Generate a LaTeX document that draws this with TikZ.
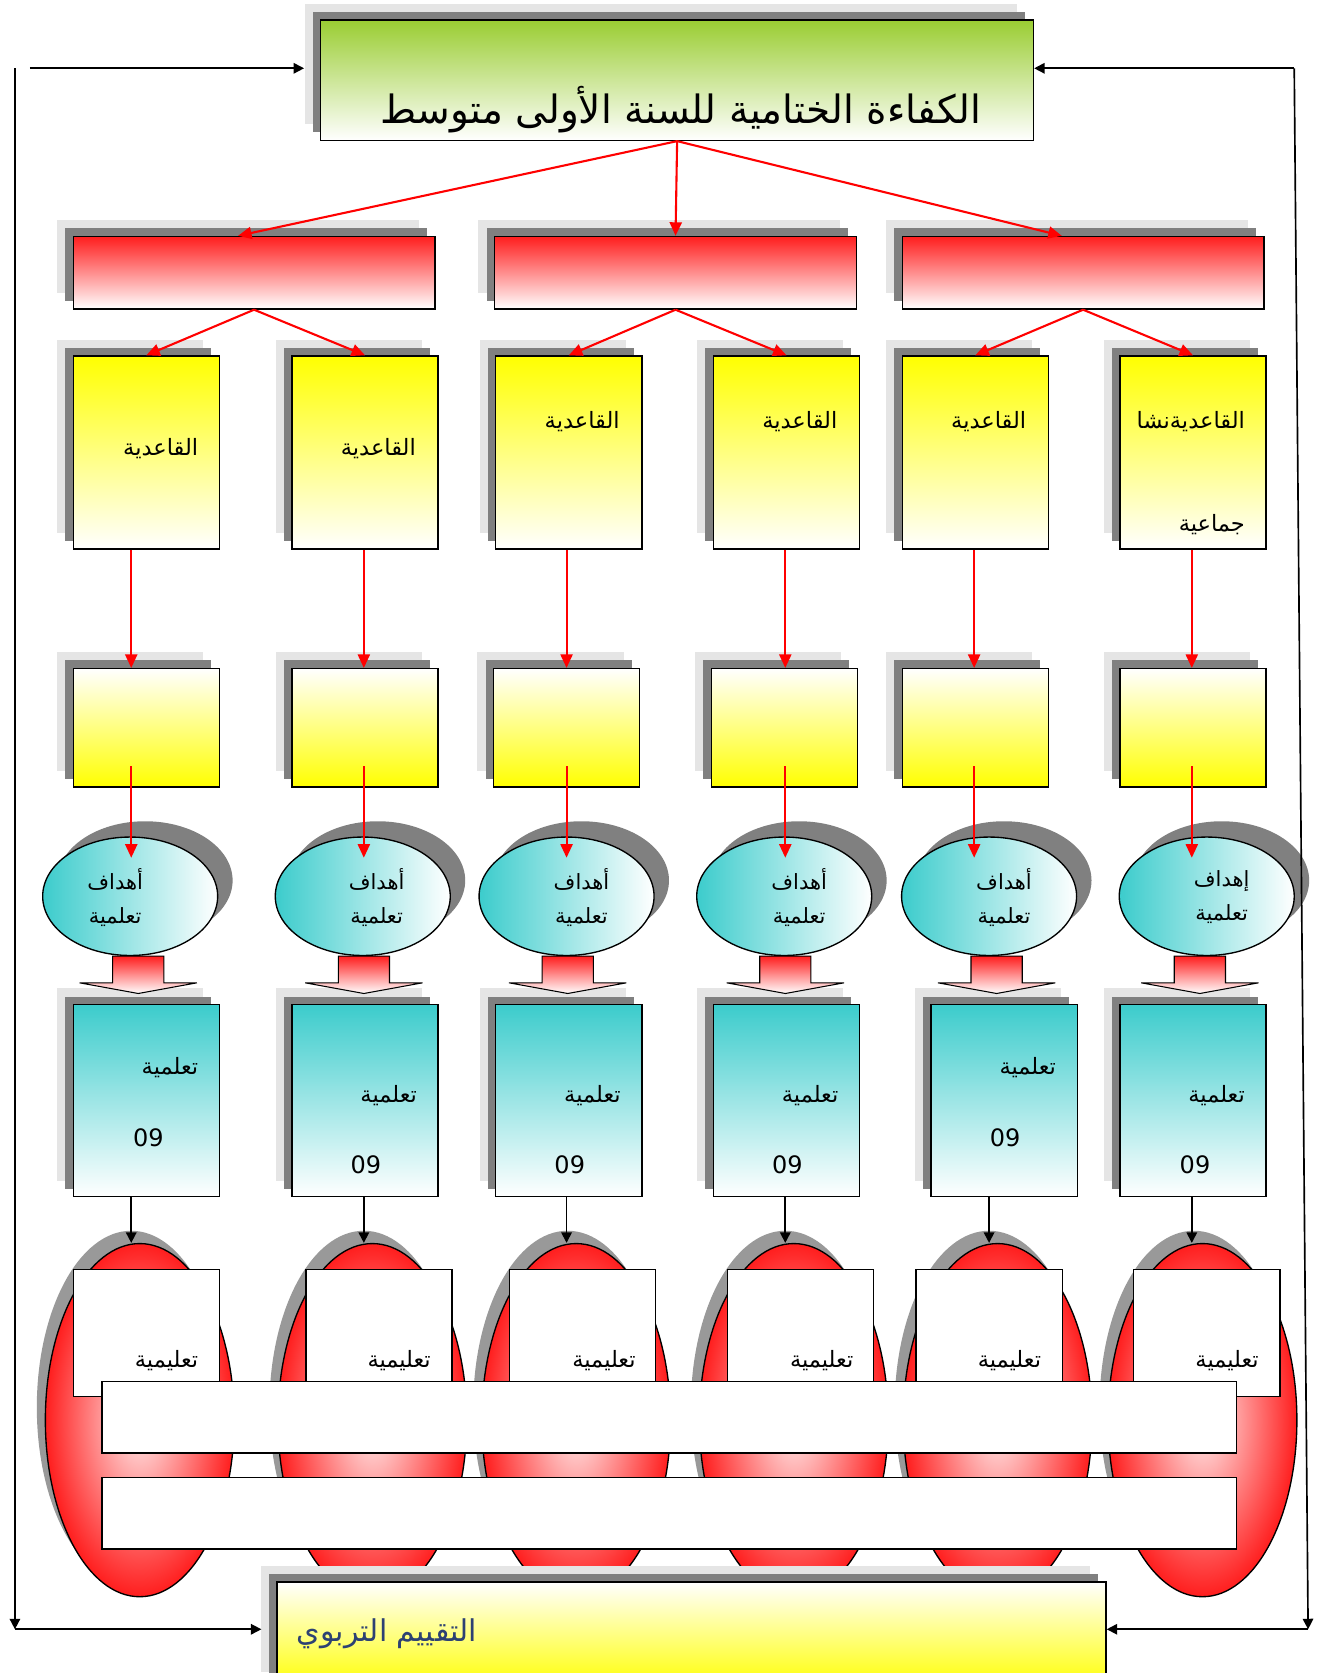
\documentclass[tikz,border=0pt]{standalone}
\usepackage{fontspec}
\setmainfont{DejaVu Sans}
\newfontfamily\arabicfont[Script=Arabic]{DejaVu Sans}
\TeXXeTstate=1
\usetikzlibrary{arrows.meta,calc,shadows,shapes.geometric}

\definecolor{titlegreen}{RGB}{154,205,50}
\definecolor{boxred}{RGB}{255,30,30}
\definecolor{boxyellow}{RGB}{255,255,0}
\definecolor{boxteal}{RGB}{60,204,204}
\definecolor{shadedark}{RGB}{128,128,128}
\definecolor{shadelight}{RGB}{229,229,229}
\definecolor{evalblue}{RGB}{45,65,115}

\newcommand{\artext}[1]{{\arabicfont\beginR #1\endR}}

\tikzset{
  sz/.style 2 args={minimum width=#1*0.025cm, minimum height=#2*0.025cm},
  plainbox/.style={draw=black, line width=0.9pt, inner sep=0pt, anchor=north west},
  boxshade/.style={
    general shadow={fill=shadelight, shadow xshift=-0.38cm, shadow yshift=0.38cm},
    general shadow={fill=shadedark, shadow xshift=-0.19cm, shadow yshift=0.19cm}},
  aimoval/.style={ellipse, draw=black, line width=0.9pt, inner sep=0pt, sz={164}{111},
    left color=boxteal, right color=white,
    general shadow={fill=shadedark, shadow xshift=0.35cm, shadow yshift=0.37cm}},
  situoval/.style={ellipse, draw=black, line width=0.9pt, inner sep=0pt, sz={177}{331},
    inner color=boxred!8, outer color=boxred,
    general shadow={fill=shadedark!80, shadow xshift=-0.2cm, shadow yshift=0.3cm}},
  blockarrow/.style={draw=black, line width=0.7pt, top color=boxred, middle color=boxred!25, bottom color=white},
  redline/.style={draw=red, line width=1.4pt, -{Triangle[length=9pt,width=8pt]}},
  blackline/.style={draw=black, line width=1.1pt, -{Triangle[length=7pt,width=7pt]}},
  artxt/.style={inner sep=0pt, font=\fontsize{15}{18}\selectfont},
}

\begin{document}
\begin{tikzpicture}[x=0.025cm, y=-0.025cm]
  % Page frame
  \useasboundingbox (0,0) rectangle (1239,1568);
  \clip (0,0) rectangle (1239,1568);

  % Final competence
  \node[plainbox, boxshade, sz={668}{113}, top color=titlegreen, bottom color=white] (comp) at (300,18) {};
  \node[artxt, anchor=east, font=\fontsize{26}{30}\selectfont] (compt) at (920,103) {\artext{الكفاءة الختامية للسنة الأولى متوسط}};

  % Domains
  \foreach \n/\x in {1/68,2/463,3/845}
    \node[plainbox, boxshade, sz={339}{68}, top color=boxred, bottom color=white] (dom\n) at (\x,221) {};
  \foreach \n/\dx in {1/-15,2/0,3/-20}
    \draw[redline] (comp.south) -- ($(dom\n.north)+(\dx,0)$);

  % The six columns
  \foreach \n/\qx/\sx/\ox/\cx/\ex/\wx/\ax/\bx in {
      1/68/68/122/68/131/68/123/123,
      2/273/273/340/273/349/286/341/341,
      3/464/462/531/464/540/477/531/531,
      4/668/666/735/668/744/681/736/736,
      5/845/845/927/872/935/858/913/927,
      6/1049/1049/1131/1049/1127/1062/1117/1117}{
    \coordinate (ax\n) at (\ax,0);
    \coordinate (bx\n) at (\bx,0);
    \node[plainbox, boxshade, sz={137}{181}, top color=boxyellow, bottom color=white] (q\n) at (\qx,333) {};
    \node[plainbox, boxshade, sz={137}{111}, top color=white, bottom color=boxyellow] (sm\n) at (\sx,626) {};
    \node[aimoval] (ob\n) at (\ox,840) {};
    \node[plainbox, boxshade, sz={137}{180}, top color=boxteal, bottom color=white] (ac\n) at (\cx,941) {};
    \coordinate (ba\n) at ($(ob\n.south)!0.5!(ob\n.south -| ac\n.north)$);
    \draw[blockarrow, shift={(ba\n)}] (-24,0) -- (24,0) -- (24,25) -- (55,25) -- (0,35) -- (-55,25) -- (-24,25) -- cycle;
    \node[situoval] (ev\n) at (\ex,1331) {};
    \node[plainbox, fill=white, sz={137}{119}] (sit\n) at (\wx,1189) {};
    \draw[redline] (q\n.south -| ax\n) -- (sm\n.north -| ax\n);
    \draw[redline] ($(sm\n.south -| ax\n)+(0,-20)$) -- ($(ob\n.north -| ax\n)+(0,20)$);
    \draw[blackline] (ac\n.south -| bx\n) -- (ev\n.north -| bx\n);
  }

  % Domains to basic competences
  \foreach \d/\a/\b in {1/1/2,2/3/4,3/5/6}{
    \draw[redline] (dom\d.south) -- (q\a.north);
    \draw[redline] (dom\d.south) -- (q\b.north);
  }

  % Texts in the columns
  \foreach \n/\x/\y/\t in {1/186/420/القاعدية, 2/390/420/القاعدية, 3/581/395/القاعدية,
      4/785/395/القاعدية, 5/962/395/القاعدية, 6/1167/395/القاعديةنشا, 7/1167/492/جماعية}
    \node[artxt, anchor=east] (qt\n) at (\x,\y) {\artext{\t}};
  \foreach \n/\x/\w in {1/108/أهداف, 2/353/أهداف, 3/545/أهداف, 4/749/أهداف, 5/941/أهداف, 6/1145/إهداف}
    \node[artxt, align=center, font=\fontsize{14}{22.5}\selectfont] (obt\n) at (\x,841) {\artext{\w}\\\artext{تعلمية}};
  \foreach \n/\x/\y/\z in {1/186/1001/139, 2/391/1027/343, 3/582/1027/534, 4/786/1027/738, 5/990/1001/942, 6/1167/1027/1120}{
    \node[artxt, anchor=east] (act\n) at (\x,\y) {\artext{تعلمية}};
    \node[artxt, font=\fontsize{16}{18}\selectfont] (acn\n) at (\z,\y+65) {09};
  }
  \foreach \n/\x in {1/186, 2/404, 3/596, 4/800, 5/976, 6/1180}
    \node[artxt, anchor=east] (sitt\n) at (\x,1275) {\artext{تعليمية}};

  % Two long bars
  \node[plainbox, fill=white, sz={1063}{67}] (row1) at (95,1294) {};
  \node[plainbox, fill=white, sz={1063}{67}] (row2) at (95,1384) {};

  % Evaluation
  \node[plainbox, boxshade, sz={777}{100}, top color=white, bottom color=boxyellow] (eval) at (259,1482) {};
  \node[artxt, anchor=west, text=evalblue, font=\fontsize{20}{22}\selectfont] (evalt) at (278,1531) {\artext{التقييم التربوي}};

  % Feedback loop
  \coordinate (tl) at (28,64);
  \coordinate (lt) at (14,64);
  \coordinate (lb) at (14,1527);
  \coordinate (rt) at (1213,64);
  \coordinate (rb) at (1226,1527);
  \draw[blackline] (tl) -- ($(comp.west |- tl)+(-15,0)$);
  \draw[blackline] (rt) -- (comp.east |- rt);
  \draw[blackline] (lt) -- (lb);
  \draw[blackline] (rt) -- (rb);
  \draw[blackline] (lb) -- ($(eval.west |- lb)+(-14,0)$);
  \draw[blackline] (rb) -- (eval.east |- rb);
\end{tikzpicture}
\end{document}
